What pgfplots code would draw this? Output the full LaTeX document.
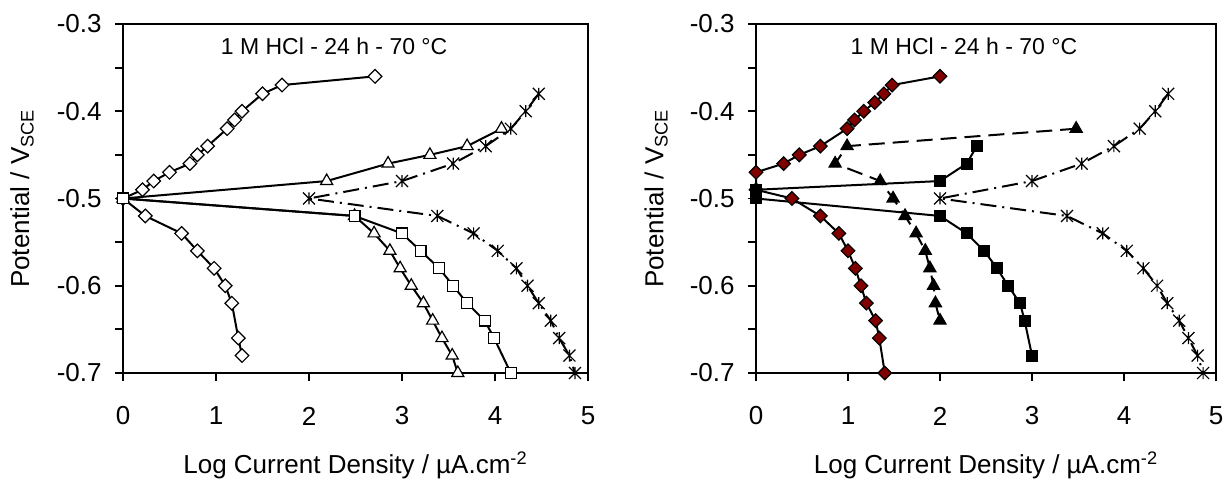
\documentclass[border=0pt]{standalone}
\usepackage{fontspec}
\setmainfont{Liberation Sans}
\usepackage{pgfplots}
\pgfplotsset{compat=1.18}
\definecolor{mred}{HTML}{800000}

% Excel-style asterisk: an X with a vertical bar
\pgfdeclareplotmark{xast}{%
  \pgfpathmoveto{\pgfqpoint{0pt}{\pgfplotmarksize}}%
  \pgfpathlineto{\pgfqpoint{0pt}{-\pgfplotmarksize}}%
  \pgfpathmoveto{\pgfqpoint{-\pgfplotmarksize}{-\pgfplotmarksize}}%
  \pgfpathlineto{\pgfqpoint{\pgfplotmarksize}{\pgfplotmarksize}}%
  \pgfpathmoveto{\pgfqpoint{-\pgfplotmarksize}{\pgfplotmarksize}}%
  \pgfpathlineto{\pgfqpoint{\pgfplotmarksize}{-\pgfplotmarksize}}%
  \pgfusepathqstroke}

\pgfplotsset{
  tafel/.style={
    scale only axis, height=174.5pt,
    xmin=0, xmax=5, ymin=-0.7, ymax=-0.3,
    xtick={0,1,2,3,4,5},
    ytick={-0.7,-0.6,-0.5,-0.4,-0.3},
    yticklabels={-0.7,-0.6,-0.5,-0.4,-0.3},
    minor ytick={-0.65,-0.55,-0.45,-0.35},
    xtick pos=left, ytick pos=left,
    tick align=outside,
    major tick length=4pt, minor tick length=4pt,
    tick style={black, line width=0.9pt},
    axis line style={line width=1pt},
    tick label style={font=\fontsize{13}{15}\selectfont},
    /pgf/number format/assume math mode=true,
    xticklabel style={anchor=center, inner sep=0pt, yshift=-17.5pt},
    yticklabel style={anchor=east, inner sep=0pt, xshift=-6.5pt},
    label style={font=\fontsize{13}{16}\selectfont},
    xlabel={Log Current Density / µA.cm\textsuperscript{-2}},
    ylabel={Potential / V\textsubscript{SCE}},
    xlabel style={at={(axis description cs:0.5,-0.264)}, anchor=center},
    ylabel style={at={(axis description cs:-0.217,0.5)}, anchor=center},
    clip=false,
  },
  dia/.style={black, line width=1pt, mark=square*, mark size=2.4pt,
    mark options={rotate=45, solid, line width=0.6pt, fill=#1}},
  tri/.style={black, line width=1pt, mark=triangle*, mark size=3.5pt,
    mark options={solid, line width=0.6pt, fill=#1}},
  sqr/.style={black, line width=1pt, mark=square*, mark size=2.7pt,
    mark options={solid, line width=0.6pt, fill=#1}},
  ast/.style={black, line width=1pt, dash pattern=on 8pt off 3pt on 1pt off 3pt,
    mark=xast, mark size=3pt, mark options={solid, line width=0.6pt}},
}

\begin{document}
\begin{tikzpicture}
\begin{axis}[tafel, name=L, at={(0,0)}, anchor=south west, width=232.5pt]
\addplot[dia=white] coordinates {
  (2.71,-0.36) (1.71,-0.37) (1.50,-0.38) (1.28,-0.40) (1.20,-0.41) (1.12,-0.42)
  (0.91,-0.44) (0.80,-0.45) (0.72,-0.46) (0.50,-0.47) (0.33,-0.48) (0.21,-0.49)
  (0.00,-0.50) (0.24,-0.52) (0.63,-0.54) (0.80,-0.56) (0.98,-0.58) (1.10,-0.60)
  (1.17,-0.62) (1.24,-0.66) (1.28,-0.68)};
\addplot[tri=white] coordinates {
  (4.07,-0.42) (3.70,-0.44) (3.30,-0.45) (2.85,-0.46) (2.19,-0.48) (0.00,-0.50)
  (2.49,-0.52) (2.70,-0.54) (2.87,-0.56) (2.98,-0.58) (3.10,-0.60) (3.23,-0.62)
  (3.33,-0.64) (3.43,-0.66) (3.54,-0.68) (3.60,-0.70)};
\addplot[sqr=white] coordinates {
  (0.00,-0.50) (2.49,-0.52) (3.00,-0.54) (3.20,-0.56) (3.40,-0.58) (3.55,-0.60)
  (3.70,-0.62) (3.89,-0.64) (3.99,-0.66) (4.17,-0.70)};
\addplot[ast] coordinates {
  (4.47,-0.38) (4.33,-0.40) (4.17,-0.42) (3.90,-0.44) (3.55,-0.46) (3.00,-0.48)
  (2.00,-0.50) (3.38,-0.52) (3.77,-0.54) (4.03,-0.56) (4.23,-0.58) (4.35,-0.60)
  (4.47,-0.62) (4.60,-0.64) (4.69,-0.66) (4.80,-0.68) (4.86,-0.70)};
\node[font=\fontsize{11.5}{13}\selectfont] at (axis cs:2.27,-0.326) {1 M HCl - 24 h - 70 °C};
\end{axis}

\begin{axis}[tafel, name=R, at={(316.5pt,0)}, anchor=south west, width=230pt]
\addplot[dia=mred] coordinates {
  (2.00,-0.36) (1.48,-0.37) (1.39,-0.38) (1.29,-0.39) (1.17,-0.40) (1.07,-0.41)
  (0.99,-0.42) (0.70,-0.44) (0.47,-0.45) (0.30,-0.46) (0.00,-0.47) (0.00,-0.49)
  (0.39,-0.50) (0.70,-0.52) (0.90,-0.54) (1.00,-0.56) (1.08,-0.58) (1.14,-0.60)
  (1.20,-0.62) (1.30,-0.64) (1.34,-0.66) (1.40,-0.70)};
\addplot[sqr=black] coordinates {
  (2.40,-0.44) (2.29,-0.46) (2.00,-0.48) (0.00,-0.49) (0.00,-0.50) (2.00,-0.52)
  (2.29,-0.54) (2.48,-0.56) (2.62,-0.58) (2.74,-0.60) (2.87,-0.62) (2.92,-0.64)
  (3.00,-0.68)};
\addplot[tri=black, dash pattern=on 8pt off 4pt] coordinates {
  (3.48,-0.42) (0.99,-0.44) (0.86,-0.46) (1.35,-0.48) (1.49,-0.50) (1.62,-0.52)
  (1.74,-0.54) (1.84,-0.56) (1.89,-0.58) (1.93,-0.60) (1.95,-0.62) (2.00,-0.64)};
\addplot[ast] coordinates {
  (4.48,-0.38) (4.34,-0.40) (4.17,-0.42) (3.89,-0.44) (3.54,-0.46) (3.00,-0.48)
  (2.00,-0.50) (3.38,-0.52) (3.77,-0.54) (4.03,-0.56) (4.21,-0.58) (4.36,-0.60)
  (4.47,-0.62) (4.60,-0.64) (4.70,-0.66) (4.80,-0.68) (4.86,-0.70)};
\node[font=\fontsize{11.5}{13}\selectfont] at (axis cs:2.26,-0.326) {1 M HCl - 24 h - 70 °C};
\end{axis}
\pgfresetboundingbox
\path[use as bounding box] (-61.5pt,-54.5pt) rectangle (551pt,186.5pt);
\end{tikzpicture}
\end{document}
